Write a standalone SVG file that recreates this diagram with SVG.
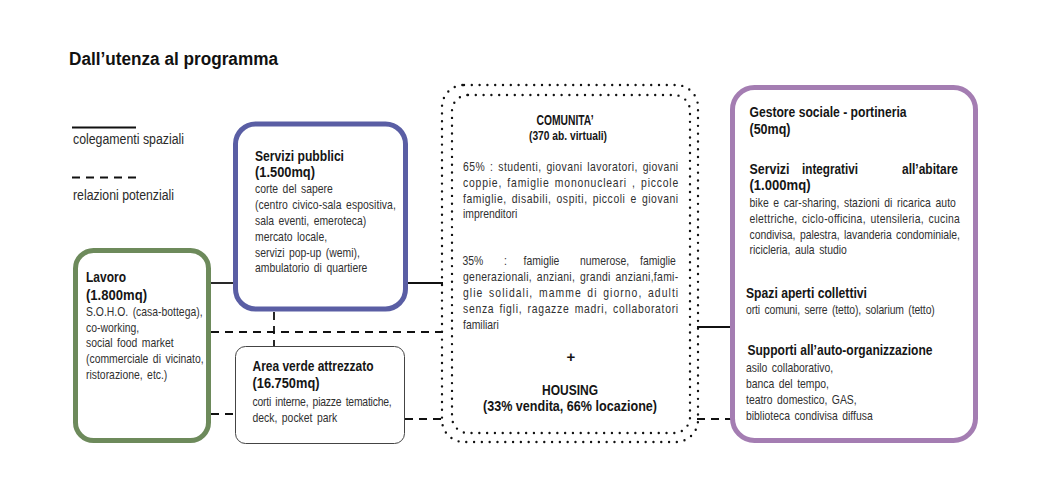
<svg xmlns="http://www.w3.org/2000/svg" width="1049" height="500" viewBox="0 0 1049 500">
<style>
text{font-family:"Liberation Sans",Arial,sans-serif;fill:#2a2a2a}
.t{font-weight:bold;font-size:18px;fill:#111}
.h{font-weight:bold;font-size:15px;fill:#151515}
.hs{font-weight:bold;font-size:13.5px;fill:#151515}
.b{font-size:13px;word-spacing:2px;fill:#303030}
.lg{font-size:14px}
.box{fill:#fff;stroke-width:5}
.sol{stroke:#111;stroke-width:1.8;fill:none}
.dash{stroke:#111;stroke-width:1.8;fill:none;stroke-dasharray:8 6}
.dot{fill:none;stroke:#111;stroke-width:2.4;stroke-linecap:round;stroke-dasharray:0 7.8}
</style>
<rect width="1049" height="500" fill="#fff"/>

<text class="t" x="69" y="65" textLength="209" lengthAdjust="spacingAndGlyphs">Dall’utenza al programma</text>

<g id="legend">
<line class="sol" x1="72" y1="127.5" x2="136" y2="127.5"/>
<text class="lg" x="73" y="143.5" textLength="111" lengthAdjust="spacingAndGlyphs">colegamenti spaziali</text>
<line class="dash" x1="72" y1="177.5" x2="136" y2="177.5"/>
<text class="lg" x="73" y="199.5" textLength="101" lengthAdjust="spacingAndGlyphs">relazioni potenziali</text>
</g>

<g id="connectors">
<line class="sol" x1="211" y1="283" x2="234" y2="283"/>
<line class="sol" x1="407" y1="283" x2="443" y2="283"/>
<line class="sol" x1="697" y1="327" x2="731" y2="327"/>
<line class="dash" x1="211" y1="332" x2="443" y2="332"/>
<line class="dash" x1="274" y1="312" x2="274" y2="346"/>
<line class="dash" x1="211" y1="414" x2="235" y2="414"/>
<line class="dash" x1="405" y1="419" x2="443" y2="419"/>
<line class="dash" x1="697" y1="419" x2="731" y2="419"/>
</g>

<g id="servizi-pubblici">
<rect class="box" x="235.5" y="124" width="170" height="185" rx="20" stroke="#5a5ea4"/>
<text class="h" x="255" y="160.5" textLength="89" lengthAdjust="spacingAndGlyphs">Servizi pubblici</text>
<text class="h" x="255" y="177" textLength="60" lengthAdjust="spacingAndGlyphs">(1.500mq)</text>
<text class="b" transform="translate(255 193) scale(0.8 1)">corte del sapere</text>
<text class="b" transform="translate(255 209) scale(0.8 1)" textLength="176" lengthAdjust="spacing">(centro civico-sala espositiva,</text>
<text class="b" transform="translate(255 225) scale(0.8 1)">sala eventi, emeroteca)</text>
<text class="b" transform="translate(255 241) scale(0.8 1)">mercato locale,</text>
<text class="b" transform="translate(255 256.5) scale(0.8 1)">servizi pop-up (wemi),</text>
<text class="b" transform="translate(255 272) scale(0.8 1)">ambulatorio di quartiere</text>
</g>

<g id="lavoro">
<rect class="box" x="75.5" y="250.5" width="133" height="190" rx="18" stroke="#6d8a5b"/>
<text class="h" x="86" y="281.5" textLength="40" lengthAdjust="spacingAndGlyphs">Lavoro</text>
<text class="h" x="86" y="300" textLength="61" lengthAdjust="spacingAndGlyphs">(1.800mq)</text>
<text class="b" transform="translate(86 316) scale(0.8 1)">S.O.H.O. (casa-bottega),</text>
<text class="b" transform="translate(86 331.5) scale(0.8 1)">co-working,</text>
<text class="b" transform="translate(86 347) scale(0.8 1)">social food market</text>
<text class="b" transform="translate(86 363) scale(0.8 1)">(commerciale di vicinato,</text>
<text class="b" transform="translate(86 379) scale(0.8 1)">ristorazione, etc.)</text>
</g>

<g id="area-verde">
<rect x="235.5" y="346.5" width="169" height="97" rx="10" fill="#fff" stroke="#444" stroke-width="1"/>
<text class="h" x="252.5" y="370.5" textLength="121" lengthAdjust="spacingAndGlyphs">Area verde attrezzato</text>
<text class="h" x="252.5" y="388" textLength="67" lengthAdjust="spacingAndGlyphs">(16.750mq)</text>
<text class="b" transform="translate(252.5 405.5) scale(0.8 1)" textLength="174" lengthAdjust="spacing">corti interne, piazze tematiche,</text>
<text class="b" transform="translate(252.5 421.5) scale(0.8 1)">deck, pocket park</text>
</g>

<g id="comunita">
<rect class="dot" x="442" y="85" width="256" height="357" rx="22"/>
<rect class="dot" x="452" y="95" width="238" height="338" rx="16"/>
<text class="h" x="565" y="125" text-anchor="middle" textLength="57" lengthAdjust="spacingAndGlyphs">COMUNITA’</text>
<text class="hs" x="568" y="140" text-anchor="middle" textLength="78" lengthAdjust="spacingAndGlyphs">(370 ab. virtuali)</text>
<text class="b" transform="translate(463 170.5) scale(0.8 1)" textLength="269" lengthAdjust="spacing">65% : studenti, giovani lavoratori, giovani</text>
<text class="b" transform="translate(463 186.5) scale(0.8 1)" textLength="269" lengthAdjust="spacing">coppie, famiglie mononucleari , piccole</text>
<text class="b" transform="translate(463 202.5) scale(0.8 1)" textLength="269" lengthAdjust="spacing">famiglie, disabili, ospiti, piccoli e giovani</text>
<text class="b" transform="translate(463 218) scale(0.8 1)">imprenditori</text>
<text class="b" transform="translate(462.5 264.5) scale(0.8 1)">35%</text>
<text class="b" transform="translate(504 264.5) scale(0.8 1)">:</text>
<text class="b" transform="translate(523.5 264.5) scale(0.8 1)">famiglie</text>
<text class="b" transform="translate(580 264.5) scale(0.8 1)">numerose,</text>
<text class="b" transform="translate(640 264.5) scale(0.8 1)">famiglie</text>
<text class="b" transform="translate(463 281) scale(0.8 1)" textLength="269" lengthAdjust="spacing">generazionali, anziani, grandi anziani,fami-</text>
<text class="b" transform="translate(463 297) scale(0.8 1)" textLength="269" lengthAdjust="spacing">glie solidali, mamme di giorno, adulti</text>
<text class="b" transform="translate(463 313) scale(0.8 1)" textLength="269" lengthAdjust="spacing">senza figli, ragazze madri, collaboratori</text>
<text class="b" transform="translate(463 329) scale(0.8 1)">familiari</text>
<text class="h" x="571" y="362" text-anchor="middle">+</text>
<text class="h" x="570" y="395" text-anchor="middle" textLength="56" lengthAdjust="spacingAndGlyphs">HOUSING</text>
<text class="h" x="570" y="411" text-anchor="middle" textLength="174" lengthAdjust="spacingAndGlyphs">(33% vendita, 66% locazione)</text>
</g>

<g id="servizi-abitare">
<rect class="box" x="732.5" y="87.5" width="243" height="353" rx="22" stroke="#a47db2"/>
<text class="h" x="749.5" y="117" textLength="157" lengthAdjust="spacingAndGlyphs">Gestore sociale - portineria</text>
<text class="h" x="749.5" y="133.5" textLength="41" lengthAdjust="spacingAndGlyphs">(50mq)</text>
<text class="h" x="749.5" y="173.5" textLength="40" lengthAdjust="spacingAndGlyphs">Servizi</text>
<text class="h" x="802" y="173.5" textLength="56" lengthAdjust="spacingAndGlyphs">integrativi</text>
<text class="h" x="902" y="173.5" textLength="56" lengthAdjust="spacingAndGlyphs">all’abitare</text>
<text class="h" x="749.5" y="190" textLength="61" lengthAdjust="spacingAndGlyphs">(1.000mq)</text>
<text class="b" transform="translate(749.5 206.5) scale(0.8 1)" textLength="258" lengthAdjust="spacing">bike e car-sharing, stazioni di ricarica auto</text>
<text class="b" transform="translate(749.5 222.5) scale(0.8 1)" textLength="263" lengthAdjust="spacing">elettriche, ciclo-officina, utensileria, cucina</text>
<text class="b" transform="translate(749.5 238.5) scale(0.8 1)" textLength="263" lengthAdjust="spacing">condivisa, palestra, lavanderia condominiale,</text>
<text class="b" transform="translate(749.5 254) scale(0.8 1)">ricicleria, aula studio</text>
<text class="h" x="746" y="297.5" textLength="121" lengthAdjust="spacingAndGlyphs">Spazi aperti collettivi</text>
<text class="b" transform="translate(746 314) scale(0.8 1)" textLength="236" lengthAdjust="spacing">orti comuni, serre (tetto), solarium (tetto)</text>
<text class="h" x="747.5" y="355" textLength="185" lengthAdjust="spacingAndGlyphs">Supporti all’auto-organizzazione</text>
<text class="b" transform="translate(746 371.5) scale(0.8 1)">asilo collaborativo,</text>
<text class="b" transform="translate(746 387.5) scale(0.8 1)">banca del tempo,</text>
<text class="b" transform="translate(746 403.5) scale(0.8 1)">teatro domestico, GAS,</text>
<text class="b" transform="translate(746 420) scale(0.8 1)">biblioteca condivisa diffusa</text>
</g>
</svg>
